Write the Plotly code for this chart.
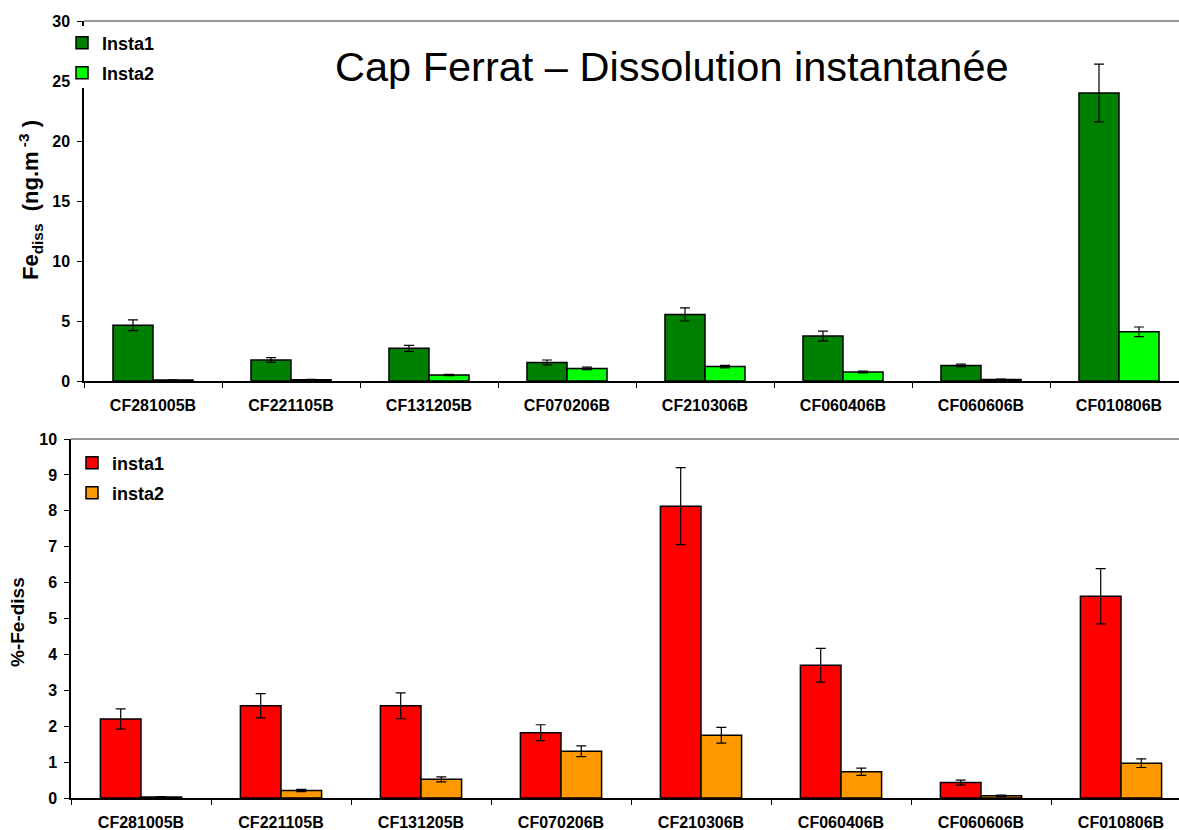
import plotly.graph_objects as go

# Samples collected at Cap Ferrat
samples = ["CF281005B", "CF221105B", "CF131205B", "CF070206B",
           "CF210306B", "CF060406B", "CF060606B", "CF010806B"]

# Dissolved Fe (ng.m-3), two successive instantaneous dissolutions
fe_insta1 = [4.65, 1.75, 2.72, 1.55, 5.55, 3.75, 1.30, 24.0]
fe_insta1_err = [0.45, 0.20, 0.25, 0.20, 0.55, 0.40, 0.10, 2.40]
fe_insta2 = [0.08, 0.10, 0.50, 1.05, 1.20, 0.75, 0.12, 4.10]
fe_insta2_err = [0.02, 0.04, 0.05, 0.10, 0.10, 0.08, 0.04, 0.40]

# Dissolved fraction of total Fe (%)
pct_insta1 = [2.20, 2.57, 2.57, 1.82, 8.13, 3.70, 0.43, 5.62]
pct_insta1_err = [0.28, 0.34, 0.36, 0.22, 1.07, 0.47, 0.07, 0.77]
pct_insta2 = [0.03, 0.21, 0.52, 1.30, 1.75, 0.73, 0.06, 0.97]
pct_insta2_err = [0.01, 0.03, 0.07, 0.15, 0.22, 0.10, 0.02, 0.12]

W, H = 1179, 830
FONT = "Liberation Sans, Arial, sans-serif"

fig = go.Figure()


def add_bars(name, y, err, color, xa, ya, legend, offsetgroup):
    fig.add_trace(go.Bar(
        x=samples, y=y, name=f"<b>{name}</b>", xaxis=xa, yaxis=ya, legend=legend,
        offsetgroup=offsetgroup,
        marker=dict(color=color, line=dict(color="black", width=1.5)),
        error_y=dict(type="data", array=err, visible=True,
                     color="black", thickness=1.2, width=5),
    ))


add_bars("Insta1", fe_insta1, fe_insta1_err, "#008000", "x", "y", "legend", "a")
add_bars("Insta2", fe_insta2, fe_insta2_err, "#00FF00", "x", "y", "legend2", "b")
add_bars("insta1", pct_insta1, pct_insta1_err, "#FF0000", "x2", "y2", "legend3", "a")
add_bars("insta2", pct_insta2, pct_insta2_err, "#FF9900", "x2", "y2", "legend4", "b")

# panel geometry (pixels): left axis position and width of one sample group
top_left, top_step = 84, 138.0
bot_left, bot_step = 71, 140.0
top_y = [(H - 381) / H, (H - 21) / H]
bot_y = [(H - 798) / H, (H - 439) / H]

tick_font = dict(family=FONT, size=16, color="black", weight="bold")
xaxis_common = dict(
    type="category", automargin=False,
    showline=True, linecolor="black", linewidth=1.5,
    ticks="outside", ticklen=5, tickcolor="black", tickson="boundaries",
    tickfont=tick_font, ticklabelstandoff=9,
    showgrid=False, zeroline=False,
)
yaxis_common = dict(
    automargin=False,
    showline=True, linecolor="black", linewidth=1.5,
    ticks="outside", ticklen=5, tickcolor="black",
    tickfont=tick_font, ticklabelstandoff=4,
    showgrid=False, zeroline=False,
)


def legend_at(x_px, y_px):
    return dict(
        x=x_px / W, y=1 - y_px / H, xanchor="left", yanchor="middle",
        bgcolor="rgba(0,0,0,0)", borderwidth=0, itemwidth=30,
        font=dict(family=FONT, size=18, color="black"),
    )


fig.update_layout(
    width=W, height=H,
    margin=dict(l=0, r=0, t=0, b=0, autoexpand=False),
    paper_bgcolor="white", plot_bgcolor="white",
    barmode="group", bargap=0.42, bargroupgap=0,
    font=dict(family=FONT, color="black"),
    xaxis=dict(**xaxis_common, anchor="y", domain=[top_left / W, 1],
               range=[-0.5, -0.5 + (W - top_left) / top_step]),
    xaxis2=dict(**xaxis_common, anchor="y2", domain=[bot_left / W, 1],
                range=[-0.5, -0.5 + (W - bot_left) / bot_step]),
    yaxis=dict(**yaxis_common, domain=top_y, range=[0, 30], dtick=5, anchor="x"),
    yaxis2=dict(**yaxis_common, domain=bot_y, range=[0, 10], dtick=1, anchor="x2"),
    legend=legend_at(62, 43),
    legend2=legend_at(62, 73),
    legend3=legend_at(72, 463),
    legend4=legend_at(72, 493),
    showlegend=True,
)

# grey frame line on top of each panel
for xref, yref in (("x domain", "y domain"), ("x2 domain", "y2 domain")):
    fig.add_shape(type="line", xref=xref, yref=yref, x0=0, x1=1, y0=1, y1=1,
                  line=dict(color="#999999", width=2), layer="below")

# white backing of the upper legend, masking the axis behind it
fig.add_shape(type="rect", xref="paper", yref="paper",
              x0=75 / W, x1=95 / W, y0=1 - 88 / H, y1=1 - 26 / H,
              fillcolor="white", line=dict(width=0), layer="above")

fig.add_annotation(
    text="Cap Ferrat – Dissolution instantanée",
    xref="paper", yref="paper", x=672 / W, y=1 - 66 / H,
    xanchor="center", yanchor="middle", showarrow=False,
    font=dict(family=FONT, size=41.5, color="black"),
)
fig.add_annotation(
    text="<b>Fe<sub>diss</sub>  (ng.m<sup> -3</sup> )</b>",
    xref="paper", yref="paper", x=30 / W, y=1 - 200 / H,
    xanchor="center", yanchor="middle", textangle=-90, showarrow=False,
    font=dict(family=FONT, size=22, color="black"),
)
fig.add_annotation(
    text="<b>%-Fe-diss</b>",
    xref="paper", yref="paper", x=17 / W, y=1 - 622 / H,
    xanchor="center", yanchor="middle", textangle=-90, showarrow=False,
    font=dict(family=FONT, size=19, color="black"),
)

fig.write_html("out.html")
